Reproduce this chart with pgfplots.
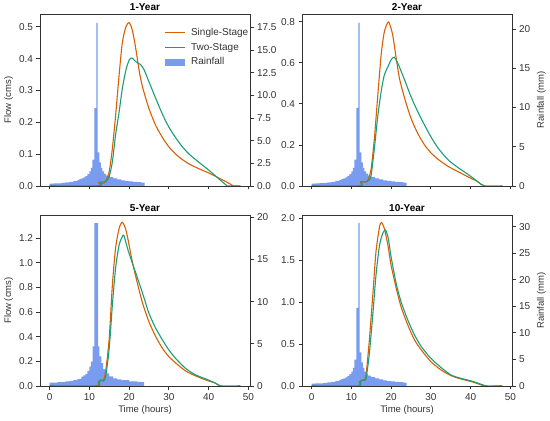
\documentclass[border=0pt]{standalone}
\usepackage{fontspec}
\setmainfont{Liberation Sans}
\usepackage{pgfplots}
\pgfplotsset{compat=1.18}
\definecolor{sso}{HTML}{D95F02}
\definecolor{tst}{HTML}{1B9E77}
\definecolor{rain}{RGB}{122,156,240}
\definecolor{spine}{HTML}{333333}
\pgfplotsset{
  base/.style={scale only axis, width=210pt, height=172pt, xmin=-2.4, xmax=50.4, ymin=0,
    axis line style={spine, line width=0.9pt}, tick style={spine, line width=0.8pt},
    major tick length=3.5pt, tick align=outside,
    tick label style={font=\fontsize{10}{11}\selectfont, text=black!80},
    label style={font=\fontsize{9.5}{11}\selectfont, text=black!80},
    /pgf/number format/assume math mode=true},
  flow/.style={base, xtick={0,10,20,30,40,50}, xtick pos=bottom, ytick pos=left,
    yticklabel style={/pgf/number format/.cd, fixed, fixed zerofill, precision=1},
    title style={font=\bfseries\fontsize{10}{11}\selectfont, yshift=-6.5pt},
    ylabel style={yshift=-1pt}, xlabel style={yshift=1pt}},
  rainax/.style={base, axis x line=none, axis y line*=right,
    yticklabel style={/pgf/number format/.cd, fixed}},
  rainplot/.style={fill=rain, draw=none, const plot},
  ss/.style={sso, line width=1.1pt, smooth, tension=0.45},
  ts/.style={tst, line width=1.1pt, smooth, tension=0.45},
  lineleg/.style={legend image code/.code={\draw[##1, line width=1.1pt] (0pt,0pt) -- (20pt,0pt);}},
  boxleg/.style={legend image code/.code={\fill[##1] (0pt,-3.5pt) rectangle (20pt,3.5pt);}},
}
\begin{document}
\begin{tikzpicture}
\path[use as bounding box] (0,0) rectangle (550pt,421pt);

% ---------------- 1-Year ----------------
\begin{axis}[rainax, at={(40pt,235pt)}, anchor=south west, ymax=18.97,
  ytick={0,2.5,5,7.5,10,12.5,15,17.5},
  yticklabel style={/pgf/number format/.cd, fixed, fixed zerofill, precision=1}]
\addplot[rainplot] table {
0 0.26
1 0.28
2 0.30
3 0.34
4 0.40
5 0.46
6 0.55
7 0.66
7.5 0.75
8 0.85
8.5 0.95
9 1.10
9.5 1.30
10 1.60
10.4 2.00
10.75 2.90
11.25 8.6
11.75 18.0
12.1 3.7
12.5 2.6
12.9 2.0
13.3 1.6
13.7 1.35
14.2 1.15
15 0.98
16 0.85
17 0.72
18 0.62
19 0.55
20 0.50
21 0.46
22 0.42
23 0.38
23.9 0.38
} \closedcycle;
\end{axis}
\begin{axis}[flow, at={(40pt,235pt)}, anchor=south west, ymax=0.54,
  ytick={0,0.1,0.2,0.3,0.4,0.5}, xticklabels={}, title={1-Year}, ylabel={Flow (cms)},
  legend style={at={(0.575,0.94)}, anchor=north west, draw=none, fill=none,
    font=\fontsize{10}{11}\selectfont, text=black!80, row sep=2pt,
    /tikz/every odd column/.append style={column sep=4pt}},
  legend cell align=left]
\addlegendimage{sso, lineleg}
\addlegendentry{Single-Stage}
\addlegendimage{tst, lineleg}
\addlegendentry{Two-Stage}
\addlegendimage{fill=rain, draw=none, boxleg}
\addlegendentry{Rainfall}
\addplot[ss] coordinates {(0,0) (12.0,0) (12.4,0.01) (12.9,0.008) (13.7,0.009) (14.3,0.02) (15.0,0.045) (15.8,0.118) (16.6,0.22) (17.5,0.35) (18.3,0.45) (19.2,0.50) (20.0,0.513) (20.8,0.49) (21.7,0.43) (22.5,0.364) (23.4,0.31) (25.0,0.243) (26.7,0.19) (28.4,0.152) (30.0,0.123) (31.8,0.099) (33.4,0.083) (35.1,0.069) (37.6,0.054) (40.2,0.040) (42.7,0.024) (45.2,0.008) (46.3,0) (48,0)};
\addplot[ts] coordinates {(0,0) (12.3,0) (12.7,0.012) (13.3,0.013) (14.2,0.014) (15.0,0.03) (15.8,0.076) (16.6,0.16) (17.5,0.233) (18.3,0.306) (19.2,0.364) (20.0,0.395) (20.7,0.402) (21.7,0.39) (22.9,0.381) (23.8,0.364) (25.0,0.327) (26.7,0.275) (28.4,0.225) (30.0,0.185) (31.8,0.150) (33.4,0.123) (35.1,0.100) (37.6,0.074) (40.2,0.048) (42.7,0.021) (44.4,0.003) (44.8,0) (48,0)};
\end{axis}

% ---------------- 2-Year ----------------
\begin{axis}[rainax, at={(302pt,235pt)}, anchor=south west, ymax=21.9,
  ytick={0,5,10,15,20}, ylabel={Rainfall (mm)}]
\addplot[rainplot] table {
0 0.30
1 0.32
2 0.35
3 0.39
4 0.46
5 0.53
6 0.64
7 0.76
7.5 0.87
8 0.98
8.5 1.10
9 1.27
9.5 1.50
10 1.85
10.4 2.31
10.75 3.35
11.25 9.94
11.75 20.8
12.1 4.28
12.5 3.0
12.9 2.31
13.3 1.85
13.7 1.56
14.2 1.33
15 1.13
16 0.98
17 0.83
18 0.72
19 0.64
20 0.58
21 0.53
22 0.49
23 0.44
23.9 0.44
} \closedcycle;
\end{axis}
\begin{axis}[flow, at={(302pt,235pt)}, anchor=south west, ymax=0.837,
  ytick={0,0.2,0.4,0.6,0.8}, xticklabels={}, title={2-Year}]
\addplot[ss] coordinates {(0,0) (11.8,0) (12.3,0.02) (13.0,0.02) (13.8,0.02) (14.4,0.04) (15.0,0.086) (15.8,0.232) (16.6,0.427) (17.5,0.638) (18.3,0.75) (19.2,0.797) (19.6,0.79) (20.4,0.735) (21.3,0.62) (22.1,0.524) (23.4,0.427) (25.0,0.33) (26.7,0.256) (28.4,0.20) (30.0,0.162) (31.8,0.13) (34.3,0.096) (36.8,0.07) (39.3,0.045) (41.8,0.021) (43.5,0) (48,0)};
\addplot[ts] coordinates {(0,0) (12.0,0) (12.4,0.02) (13.2,0.02) (14.0,0.022) (14.5,0.03) (15.0,0.054) (15.8,0.183) (16.6,0.33) (17.5,0.46) (18.3,0.54) (19.2,0.58) (20.0,0.614) (20.8,0.627) (21.7,0.597) (23.4,0.516) (25.0,0.435) (26.7,0.362) (28.4,0.297) (30.0,0.24) (31.8,0.185) (34.3,0.128) (36.8,0.09) (39.3,0.057) (41.8,0.021) (43.5,0) (48,0)};
\end{axis}

% ---------------- 5-Year ----------------
\begin{axis}[rainax, at={(40pt,35pt)}, anchor=south west, height=171pt, ymax=20.27,
  ytick={0,5,10,15,20}]
\addplot[rainplot] table {
0 0.40
2 0.45
4 0.55
5 0.62
6 0.70
7 0.85
8 1.1
8.5 1.25
9 1.4
9.5 1.8
10 2.3
10.4 2.9
10.8 4.7
11.25 19.3
12.2 4.7
12.5 3.5
13 2.7
13.5 2.0
14 1.5
15 1.15
16 0.9
17 0.78
18 0.7
20 0.55
22 0.5
23 0.45
23.8 0.45
} \closedcycle;
\end{axis}
\begin{axis}[flow, at={(40pt,35pt)}, anchor=south west, height=171pt, ymax=1.386,
  ytick={0,0.2,0.4,0.6,0.8,1.0,1.2}, title={5-Year}, ylabel={Flow (cms)}, xlabel={Time (hours)}]
\addplot[ss] coordinates {(0,0) (11.6,0) (12.2,0.03) (12.8,0.05) (13.5,0.045) (14.1,0.116) (15.0,0.386) (15.8,0.82) (16.6,1.116) (17.5,1.278) (18.3,1.327) (19.2,1.265) (20.0,1.143) (20.8,1.008) (22.1,0.832) (23.4,0.67) (25.0,0.52) (26.7,0.40) (28.4,0.305) (30.0,0.238) (31.8,0.184) (34.3,0.12) (36.8,0.081) (39.3,0.049) (41.8,0.022) (43.1,0) (48,0)};
\addplot[ts] coordinates {(0,0) (11.8,0) (12.4,0.03) (12.9,0.045) (13.5,0.04) (14.1,0.076) (15.0,0.305) (15.8,0.657) (16.6,0.954) (17.5,1.143) (18.3,1.21) (18.7,1.22) (19.6,1.116) (20.4,1.035) (21.7,0.914) (23.4,0.751) (25.0,0.589) (26.7,0.468) (28.4,0.373) (30.0,0.292) (31.8,0.22) (34.3,0.14) (36.8,0.089) (39.3,0.057) (41.8,0.022) (43.1,0) (48,0)};
\end{axis}

% ---------------- 10-Year ----------------
\begin{axis}[rainax, at={(302pt,35pt)}, anchor=south west, height=171pt, ymax=32.2,
  ytick={0,5,10,15,20,25,30}, ylabel={Rainfall (mm)}]
\addplot[rainplot] table {
0 0.44
1 0.48
2 0.51
3 0.58
4 0.68
5 0.78
6 0.94
7 1.13
7.5 1.28
8 1.45
8.5 1.62
9 1.88
9.5 2.22
10 2.73
10.4 3.41
10.75 4.95
11.25 14.7
11.75 30.7
12.1 6.31
12.5 4.44
12.9 3.41
13.3 2.73
13.7 2.30
14.2 1.96
15 1.67
16 1.45
17 1.23
18 1.06
19 0.94
20 0.85
21 0.78
22 0.72
23 0.65
23.9 0.65
} \closedcycle;
\end{axis}
\begin{axis}[flow, at={(302pt,35pt)}, anchor=south west, height=171pt, ymax=2.04,
  ytick={0,0.5,1.0,1.5,2.0}, title={10-Year}, xlabel={Time (hours)}]
\addplot[ss] coordinates {(0,0) (11.4,0) (12.0,0.05) (12.8,0.07) (13.3,0.08) (13.7,0.13) (14.5,0.53) (15.4,1.085) (16.2,1.6) (17.1,1.9) (17.6,1.95) (18.3,1.88) (19.2,1.68) (20.0,1.44) (21.3,1.165) (22.5,0.946) (24.2,0.728) (25.9,0.549) (27.6,0.43) (30.0,0.29) (32.6,0.19) (35.1,0.123) (37.6,0.083) (40.2,0.052) (42.7,0.012) (43.5,0) (48,0)};
\addplot[ts] coordinates {(0,0) (11.6,0) (12.2,0.05) (12.9,0.07) (13.3,0.07) (13.7,0.09) (14.5,0.37) (15.4,0.85) (16.2,1.32) (17.1,1.68) (17.9,1.82) (18.6,1.86) (19.3,1.76) (20.0,1.54) (21.3,1.22) (22.5,1.006) (24.2,0.787) (25.9,0.608) (27.6,0.47) (30.0,0.33) (32.6,0.219) (35.1,0.131) (37.6,0.091) (40.2,0.06) (42.7,0.02) (43.9,0) (48,0)};
\end{axis}
\end{tikzpicture}
\end{document}
